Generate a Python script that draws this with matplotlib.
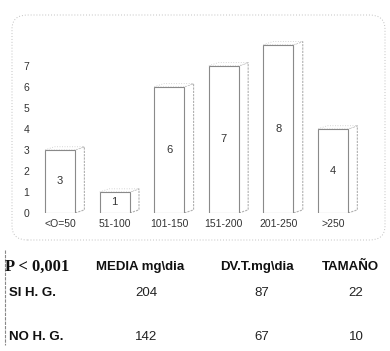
import matplotlib
matplotlib.use("Agg")
import matplotlib.pyplot as plt
from matplotlib.patches import Rectangle, Polygon, FancyBboxPatch

categories = ["<O=50", "51-100", "101-150", "151-200", "201-250", ">250"]
values = [3, 1, 6, 7, 8, 4]
yticks = [0, 1, 2, 3, 4, 5, 6, 7]

table_header = ["MEDIA mg\\dia", "DV.T.mg\\dia", "TAMAÑO"]
row_labels = ["SI H. G.", "NO H. G."]
media = [204, 142]
dvt = [87, 67]
tamano = [22, 10]

W, H = 390, 351
fig = plt.figure(figsize=(3.9, 3.51), dpi=100)
fig.patch.set_facecolor("white")

def fx(px):
    return px / W

def fy(py):
    return 1 - py / H

ax = fig.add_axes([fx(35), fy(213), fx(380) - fx(35), fy(30) - fy(213)])
ax.set_xlim(-0.46, 5.86)
ax.set_ylim(0, 8.7)
for s in ax.spines.values():
    s.set_visible(False)
ax.set_xticks(range(len(categories)))
ax.set_xticklabels(categories, fontsize=7.5, color="#333333", family="Liberation Sans")
ax.set_yticks(yticks)
ax.set_yticklabels([str(t) for t in yticks], fontsize=7.5, color="#333333", family="Liberation Sans")
ax.tick_params(length=0, pad=4)
ax.tick_params(axis="x", pad=4)

bw = 0.55
dx, dy = 0.17, 0.15
edge = "#8a8a8a"
for i, v in enumerate(values):
    x0 = i - bw / 2
    side = Polygon([(x0 + bw, 0), (x0 + bw + dx, dy), (x0 + bw + dx, v + dy), (x0 + bw, v)],
                   closed=True, facecolor="white", edgecolor="#b0b0b0", linewidth=0.8,
                   linestyle=(0, (2, 1)))
    ax.add_patch(side)
    top = Polygon([(x0, v), (x0 + dx, v + dy), (x0 + bw + dx, v + dy), (x0 + bw, v)],
                  closed=True, facecolor="white", edgecolor="#c8c8c8", linewidth=0.6,
                  linestyle=(0, (1, 2)))
    ax.add_patch(top)
    front = Rectangle((x0, 0), bw, v, facecolor="white", edgecolor=edge, linewidth=0.8)
    ax.add_patch(front)
    ax.text(i, v / 2, str(v), ha="center", va="center", fontsize=8,
            color="#333333", family="Liberation Sans")

frame = FancyBboxPatch((fx(12), fy(240)), fx(385) - fx(12), fy(15) - fy(240),
                       boxstyle="round,pad=0,rounding_size=0.04",
                       transform=fig.transFigure, facecolor="none",
                       edgecolor="#c0c0c0", linewidth=0.7, linestyle=(0, (1, 2)))
fig.add_artist(frame)

fig.add_artist(plt.Line2D([fx(5), fx(5)], [fy(250), fy(345)], transform=fig.transFigure,
                          color="#888888", linewidth=0.8, linestyle=(0, (3, 1))))

fig.text(fx(5), fy(267), "P < 0,001", fontsize=12, fontweight="bold",
         family="Liberation Serif", va="center", ha="left", color="#111111")
hx = [140, 257, 350]
for x, t in zip(hx, table_header):
    fig.text(fx(x), fy(267), t, fontsize=9.5, fontweight="bold", family="Liberation Sans",
             va="center", ha="center", color="#111111")

ry = [293, 337]
for r in range(2):
    fig.text(fx(9), fy(ry[r]), row_labels[r], fontsize=9.5, fontweight="bold",
             family="Liberation Sans", va="center", ha="left", color="#111111")
    fig.text(fx(146), fy(ry[r]), str(media[r]), fontsize=9.5, family="Liberation Sans",
             va="center", ha="center", color="#222222")
    fig.text(fx(262), fy(ry[r]), str(dvt[r]), fontsize=9.5, family="Liberation Sans",
             va="center", ha="center", color="#222222")
    fig.text(fx(356), fy(ry[r]), str(tamano[r]), fontsize=9.5, family="Liberation Sans",
             va="center", ha="center", color="#222222")

fig.savefig("out.png", dpi=100)
